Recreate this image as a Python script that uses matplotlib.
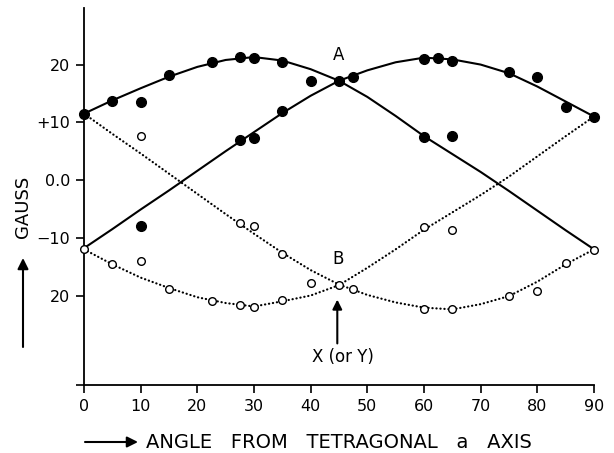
import matplotlib
matplotlib.use("Agg")
import matplotlib.pyplot as plt

angles = [0, 5, 10, 15, 20, 25, 30, 35, 40, 45, 50, 55, 60, 65, 70, 75, 80, 85, 90]
curve_a_first = [11.5, 13.8, 15.9, 17.9, 19.6, 20.8, 21.3, 20.7, 19.2, 17.2, 14.4, 11.1, 7.6, 4.5, 1.4, -1.9, -5.3, -8.7, -12.0]
curve_a_second = [-11.8, -8.5, -5.1, -1.8, 1.6, 5.0, 8.3, 11.6, 14.6, 17.2, 19.0, 20.4, 21.2, 20.9, 20.0, 18.5, 16.2, 13.6, 11.0]
curve_b_first = [11.5, 8.0, 4.6, 1.1, -2.4, -5.9, -9.3, -12.6, -15.6, -18.1, -19.9, -21.2, -22.1, -22.4, -21.5, -20.1, -17.6, -14.6, -12.0]
curve_b_second = [-12.0, -14.6, -16.9, -18.7, -20.3, -21.3, -21.9, -21.0, -20.0, -18.2, -15.2, -12.0, -8.6, -5.6, -2.6, 0.6, 4.1, 7.6, 11.0]

# measured points (A lines: filled, B lines: open)
filled_x = [0, 5, 10, 15, 22.5, 27.5, 30, 35, 40, 45, 60, 65,
            10, 27.5, 30, 35, 47.5, 60, 62.5, 65, 75, 80, 85, 90]
filled_y = [11.4, 13.7, 13.5, 18.2, 20.5, 21.3, 21.2, 20.5, 17.1, 17.2, 7.4, 7.7,
            -8.0, 7.0, 7.3, 11.9, 17.8, 21.0, 21.2, 20.6, 18.7, 17.8, 12.7, 11.0]
open_x = [0, 5, 10, 10, 15, 22.5, 27.5, 30, 27.5, 30, 35, 35, 40, 45, 47.5,
          60, 65, 60, 65, 75, 80, 85, 90]
open_y = [-12.0, -14.6, -14.0, 7.7, -18.9, -20.9, -21.6, -22.0, -7.4, -8.0, -20.8, -12.8, -17.9, -18.1, -18.9,
          -8.1, -8.7, -22.4, -22.4, -20.0, -19.3, -14.3, -12.1]

y_ticks = [-35.5, -20, -10, 0, 10, 20]
y_tick_labels = ["", "20", "\u221210", "0.0", "+10", "20"]
x_ticks = [0, 10, 20, 30, 40, 50, 60, 70, 80, 90]

plt.rcParams["font.family"] = ["DejaVu Sans"]

fig = plt.figure(figsize=(6.14, 4.53), dpi=100)
ax = fig.add_axes([84 / 614, 68 / 453, 510 / 614, 377 / 453])

dotted = (0, (0.1, 1.7))
ax.plot(angles, curve_a_first, color="black", lw=1.5)
ax.plot(angles, curve_a_second, color="black", lw=1.5)
ax.plot(angles, curve_b_first, color="black", lw=1.6, linestyle=dotted, dash_capstyle="round")
ax.plot(angles, curve_b_second, color="black", lw=1.6, linestyle=dotted, dash_capstyle="round")

ax.plot(filled_x, filled_y, "o", ms=7, color="black", zorder=3, clip_on=False)
ax.plot(open_x, open_y, "o", ms=5.5, mfc="white", mec="black", mew=1.0, zorder=3, clip_on=False)

ax.set_xlim(0, 90)
ax.set_ylim(-35.5, 29.8)
ax.set_xticks(x_ticks)
ax.set_yticks(y_ticks)
ax.set_yticklabels(y_tick_labels)
ax.tick_params(direction="out", length=6, width=1.2, labelsize=11.5, pad=4)
for side in ["top", "right"]:
    ax.spines[side].set_visible(False)
for side in ["left", "bottom"]:
    ax.spines[side].set_linewidth(1.3)

ax.text(44.9, 21.6, "A", ha="center", va="center", fontsize=12)
ax.text(44.9, -13.7, "B", ha="center", va="center", fontsize=12)
ax.annotate("", xy=(44.7, -20.7), xytext=(44.7, -28.3),
            arrowprops=dict(arrowstyle="-|>", color="black", lw=1.5, mutation_scale=14, shrinkA=0, shrinkB=0))
ax.text(45.7, -30.7, "X (or Y)", ha="center", va="center", fontsize=12)

# axis labels with their arrows, as in the original figure
fig.text(23 / 614, 1 - 207 / 453, "GAUSS", rotation=90, ha="center", va="center", fontsize=13)
ax.annotate("", xy=(23 / 614, 1 - 258 / 453), xytext=(23 / 614, 1 - 347 / 453), xycoords="figure fraction",
            arrowprops=dict(arrowstyle="-|>", color="black", lw=1.5, mutation_scale=16, shrinkA=0, shrinkB=0))
ax.annotate("", xy=(138 / 614, 1 - 442 / 453), xytext=(85 / 614, 1 - 442 / 453), xycoords="figure fraction",
            arrowprops=dict(arrowstyle="-|>", color="black", lw=1.5, mutation_scale=16, shrinkA=0, shrinkB=0))
fig.text(146 / 614, 1 - 442 / 453, "ANGLE   FROM   TETRAGONAL   a   AXIS", ha="left", va="center", fontsize=14)

fig.savefig("out.png", dpi=100)
plt.close()
